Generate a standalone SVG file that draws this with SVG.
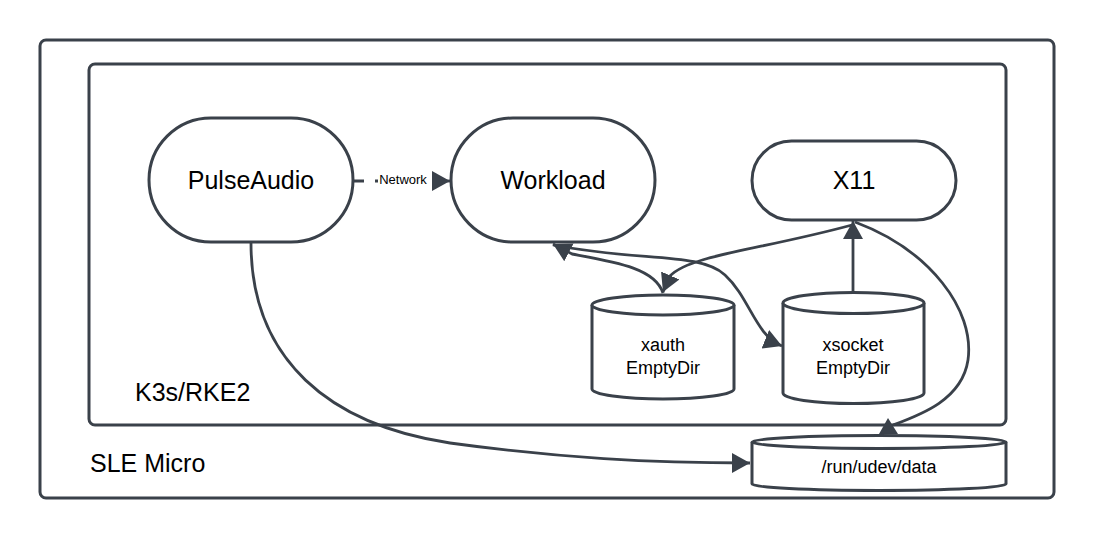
<svg xmlns="http://www.w3.org/2000/svg" width="1095" height="539" viewBox="0 0 1095 539">
<style>
.box{fill:#fff;stroke:#3a414a;stroke-width:3}
.shape{fill:#fff;stroke:#3a414a;stroke-width:3}
.edge{fill:none;stroke:#3a414a;stroke-width:2.8}
.lbl{font-family:"Liberation Sans",Arial,sans-serif;fill:#000;text-anchor:middle}
.big{font-size:25px}
.mid{font-size:18px}
.small{font-size:13px}
.left{text-anchor:start}
</style>
<defs>
<marker id="arr" markerUnits="userSpaceOnUse" markerWidth="20" markerHeight="22" refX="18" refY="10" orient="auto" viewBox="0 0 20 22">
<path d="M0,0 L18,10 L0,20 z" fill="#3a414a"/>
</marker>
</defs>
<rect width="1095" height="539" fill="#fff"/>
<g id="sle-micro">
<rect class="box" x="40" y="40" width="1014" height="458" rx="6"/>
<text class="lbl big left" x="90" y="472">SLE Micro</text>
</g>
<g id="k3s">
<rect class="box" x="89" y="64" width="917" height="361" rx="6"/>
<text class="lbl big left" x="135" y="401">K3s/RKE2</text>
</g>
<g id="pulseaudio">
<rect class="shape" x="149" y="118" width="204" height="124" rx="62"/>
<text class="lbl big" x="251" y="189">PulseAudio</text>
</g>
<g id="workload">
<rect class="shape" x="451" y="118" width="204" height="124" rx="62"/>
<text class="lbl big" x="553" y="189">Workload</text>
</g>
<g id="x11">
<rect class="shape" x="752" y="141" width="204" height="79" rx="39.5"/>
<text class="lbl big" x="854" y="189">X11</text>
</g>
<g id="xauth">
<path class="shape" d="M592,305 A71,10 0 0 1 734,305 L734,389 A71,10 0 0 1 592,389 Z"/>
<path class="shape" d="M592,305 A71,10 0 0 0 734,305" fill="none"/>
<text class="lbl mid" x="663" y="351">xauth</text>
<text class="lbl mid" x="663" y="374">EmptyDir</text>
</g>
<g id="xsocket">
<path class="shape" d="M783,303 A70.5,10.5 0 0 1 924,303 L924,393 A70.5,10.5 0 0 1 783,393 Z"/>
<path class="shape" d="M783,303 A70.5,10.5 0 0 0 924,303" fill="none"/>
<text class="lbl mid" x="853" y="351">xsocket</text>
<text class="lbl mid" x="853" y="374">EmptyDir</text>
</g>
<g id="udev-data">
<path class="shape" d="M752,442 A127,6.5 0 0 1 1006,442 L1006,484 A127,6.5 0 0 1 752,484 Z"/>
<path class="shape" d="M752,442 A127,6.5 0 0 0 1006,442" fill="none"/>
<text class="lbl mid" x="879" y="473">/run/udev/data</text>
</g>
<g id="connectors">
<path class="edge" d="M353,181 L364,181 M375,181 L378,181"/>
<path class="edge" d="M434,181 L450,181" marker-end="url(#arr)"/>
<text class="lbl small" x="403" y="184">Network</text>
<path class="edge" d="M251,243 C251,360 330,425 450,443 C560,458 650,463 750,463" marker-end="url(#arr)"/>
<path class="edge" d="M663,293 C655,268 615,262 572,254 L553,244" marker-end="url(#arr)"/>
<path class="edge" d="M553,245 C640,262 700,252 725,275 S755,335 782,346" marker-end="url(#arr)"/>
<path class="edge" d="M852,225 C760,250 690,255 670,276 L663,292" marker-end="url(#arr)"/>
<path class="edge" d="M853,292 L853,221" marker-end="url(#arr)"/>
<path class="edge" d="M855,222 C930,250 975,310 968,360 C962,400 920,415 893,425"/>
<polygon points="888,418 879,434 898,434" fill="#3a414a"/>
</g>
</svg>
